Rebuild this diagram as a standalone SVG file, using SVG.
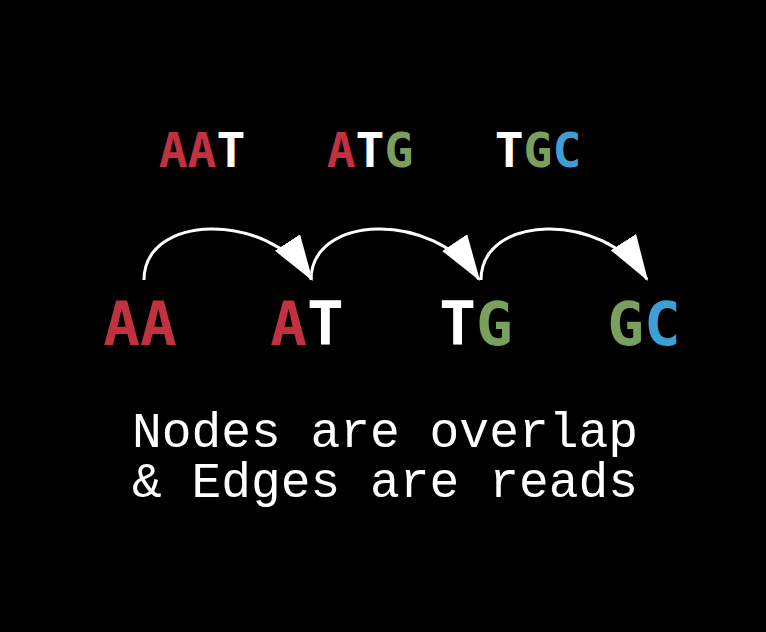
<svg xmlns="http://www.w3.org/2000/svg" width="766" height="632" viewBox="0 0 766 632">
<defs>
<style>
.k{font-family:"DejaVu Sans Mono","Liberation Mono",monospace;font-weight:bold;text-anchor:middle}
.r{font-size:48px}
.n{font-size:61px}
.cap{font-family:"Liberation Mono","DejaVu Sans Mono",monospace;font-size:49.6px;fill:#ffffff}
.R{fill:#c1313f}.W{fill:#ffffff}.G{fill:#7aa05e}.B{fill:#3c9fd5}
.e{fill:none;stroke:#ffffff;stroke-width:3}
</style>
<marker id="ah" markerUnits="userSpaceOnUse" markerWidth="50" markerHeight="34" refX="44" refY="15" orient="auto" viewBox="0 0 50 34">
<path d="M0,0 L46,15 L0,30 Z" fill="#ffffff"/>
</marker>
</defs>
<rect width="766" height="632" fill="#000000"/>
<g id="reads">
<text class="k r" x="202" y="167"><tspan class="R">AA</tspan><tspan class="W">T</tspan></text>
<text class="k r" x="370" y="167"><tspan class="R">A</tspan><tspan class="W">T</tspan><tspan class="G">G</tspan></text>
<text class="k r" x="538" y="167"><tspan class="W">T</tspan><tspan class="G">G</tspan><tspan class="B">C</tspan></text>
</g>
<g id="connectors">
<path class="e" marker-end="url(#ah)" d="M144,280 C144,214 266,210 311.7,279.3"/>
<path class="e" marker-end="url(#ah)" d="M311,280 C311,214 433,210 479,279.3"/>
<path class="e" marker-end="url(#ah)" d="M481,280 C481,214 603,210 647,279.3"/>
</g>
<g id="node-AA"><text class="k n" x="140" y="345"><tspan class="R">AA</tspan></text></g>
<g id="node-AT"><text class="k n" x="307" y="345"><tspan class="R">A</tspan><tspan class="W">T</tspan></text></g>
<g id="node-TG"><text class="k n" x="476" y="345"><tspan class="W">T</tspan><tspan class="G">G</tspan></text></g>
<g id="node-GC"><text class="k n" x="644" y="345"><tspan class="G">G</tspan><tspan class="B">C</tspan></text></g>
<g id="caption">
<text class="cap"><tspan x="132" y="447">Nodes are overlap</tspan><tspan x="132" y="497">&amp; Edges are reads</tspan></text>
</g>
</svg>
